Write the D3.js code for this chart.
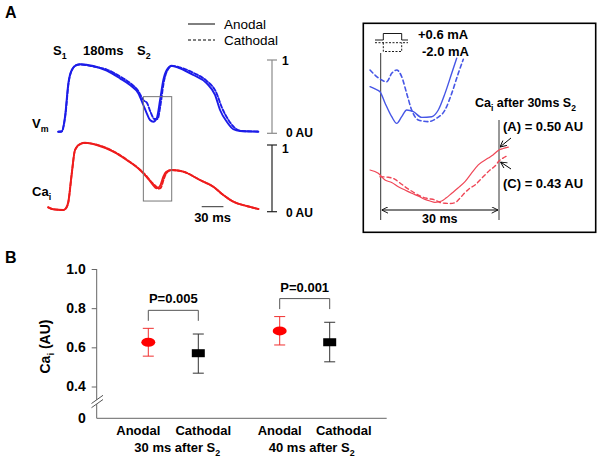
<!DOCTYPE html>
<html><head><meta charset="utf-8">
<script src="https://cdn.jsdelivr.net/npm/d3@7"></script>
<style>body{margin:0;background:#fff}svg{display:block}text{font-family:"Liberation Sans",Arial,sans-serif}</style>
</head><body><script>
// ---------- Panel A: optical traces (time ms, amplitude AU) ----------
const vmAnodal = [[14.2,0.022],[18.9,0.025],[23.5,0.226],[28.1,0.682],[32.8,0.864],[39.7,0.932],[44.2,0.941],[62.6,0.918],[81.2,0.854],[99.5,0.750],[113.4,0.659],[124.8,0.546],[131.8,0.386],[136.5,0.273],[141.0,0.181],[145.6,0.158],[150.3,0.205],[154.9,0.454],[159.4,0.727],[164.1,0.864],[171.0,0.922],[182.5,0.887],[200.9,0.795],[219.4,0.682],[230.9,0.523],[237.8,0.318],[247.1,0.158],[256.2,0.055],[265.4,0.031],[290.8,0.022]];
const vmCathodal = [[14.2,0.022],[18.9,0.025],[23.9,0.236],[28.5,0.686],[33.2,0.864],[39.7,0.932],[44.2,0.939],[62.6,0.911],[81.2,0.870],[99.5,0.775],[113.4,0.686],[124.8,0.577],[131.8,0.454],[136.9,0.413],[141.7,0.291],[147.2,0.195],[151.3,0.195],[155.5,0.386],[159.6,0.673],[164.5,0.850],[171.4,0.918],[182.5,0.898],[200.9,0.825],[219.4,0.714],[232.3,0.563],[240.6,0.345],[250.3,0.168],[260.0,0.059],[268.2,0.031],[290.8,0.025]];
const caAnodal = [[0.4,0.066],[7.3,0.036],[21.2,0.025],[24.9,0.055],[28.1,0.150],[32.8,0.576],[37.3,0.925],[44.2,1.015],[51.2,1.034],[67.3,1.000],[90.3,0.900],[108.8,0.775],[127.2,0.625],[136.5,0.520],[143.4,0.426],[150.3,0.351],[154.8,0.385],[159.4,0.525],[163.1,0.595],[171.0,0.625],[187.1,0.600],[210.1,0.475],[228.5,0.375],[242.4,0.250],[256.2,0.150],[274.7,0.085],[290.8,0.040]];
const caCathodal = [[0.4,0.066],[7.3,0.036],[21.2,0.025],[24.9,0.050],[28.1,0.140],[32.8,0.560],[37.3,0.920],[44.2,1.010],[51.2,1.030],[67.3,1.005],[90.3,0.905],[108.8,0.780],[127.2,0.630],[136.5,0.530],[143.4,0.440],[150.3,0.370],[153.0,0.345],[156.0,0.360],[159.4,0.470],[163.1,0.570],[171.0,0.625],[187.1,0.600],[210.1,0.475],[228.5,0.375],[242.4,0.250],[256.2,0.150],[274.7,0.085],[290.8,0.040]];

// ---------- Inset: zoom around S2 (time ms after S2, AU) ----------
const vmInsetAnodal = [[-2.71,0.311],[-1.45,0.298],[-0.18,0.282],[1.09,0.216],[2.79,0.136],[4.06,0.097],[5.33,0.136],[6.59,0.175],[8.27,0.165],[10.40,0.132],[12.93,0.136],[14.61,0.175],[16.31,0.272],[18.01,0.389],[19.27,0.477]];
const vmInsetCathodal = [[-2.71,0.408],[-1.45,0.379],[0.25,0.350],[1.52,0.340],[2.79,0.389],[4.06,0.408],[5.33,0.369],[6.59,0.272],[7.86,0.175],[9.54,0.117],[12.07,0.107],[14.20,0.127],[16.31,0.175],[18.01,0.272],[19.68,0.389],[20.95,0.471]];
const caInsetAnodal = [[-2.71,0.378],[-0.61,0.358],[1.09,0.317],[2.79,0.302],[4.46,0.276],[6.16,0.256],[7.86,0.236],[9.46,0.220],[11.24,0.199],[12.50,0.189],[13.77,0.181],[15.47,0.189],[16.56,0.207],[18.01,0.236],[19.60,0.268],[21.38,0.307],[22.90,0.354],[24.75,0.409],[27.29,0.451],[28.48,0.470],[30.0,0.500],[31.02,0.509],[32.36,0.518]];
const caInsetCathodal = [[-0.18,0.337],[1.93,0.334],[3.63,0.321],[4.89,0.299],[6.16,0.276],[8.19,0.244],[10.40,0.215],[11.99,0.204],[13.77,0.195],[15.04,0.180],[16.31,0.175],[17.58,0.174],[18.85,0.179],[20.12,0.207],[21.38,0.240],[22.65,0.268],[23.92,0.287],[25.18,0.317],[26.45,0.348],[27.72,0.378],[28.99,0.402],[30.0,0.433],[31.02,0.451],[31.96,0.463]];
const insetReadout = ["(A) = 0.50 AU", "(C) = 0.43 AU"];
const stimLabels = ["+0.6 mA", "-2.0 mA"];

// ---------- Panel B: Ca_i summary ----------
const groups = ["30 ms after S2", "40 ms after S2"];
const stims = ["Anodal", "Cathodal"];
const meanVals = [0.626, 0.570, 0.684, 0.626];
const upperVals = [0.697, 0.668, 0.757, 0.728];
const lowerVals = [0.555, 0.468, 0.612, 0.526];
const pLabels = ["P=0.005", "P=0.001"];
const yTicks = [0.4, 0.6, 0.8, 1.0];

const FONT = '"Liberation Sans", Arial, sans-serif';
const svg = d3.select("body").append("svg").attr("width", 600).attr("height", 459);
svg.append("rect").attr("width", 600).attr("height", 459).attr("fill", "#fff");

const defs = svg.append("defs");
defs.append("marker").attr("id", "arr").attr("viewBox", "0 0 10 10").attr("refX", 10).attr("refY", 5)
  .attr("markerWidth", 7).attr("markerHeight", 7).attr("markerUnits", "userSpaceOnUse").attr("orient", "auto-start-reverse")
  .append("path").attr("d", "M1,0.5 L10,5 L1,9.5").attr("fill", "none").attr("stroke", "#000").attr("stroke-width", 1.3);

// text helper with subscripts: segs = [[text, isSub], ...]
function rich(x, y, segs, size, opts = {}) {
  const t = svg.append("text").attr("x", x).attr("y", y).attr("font-size", size)
    .attr("font-weight", opts.weight || "bold").attr("text-anchor", opts.anchor || "start")
    .attr("fill", opts.fill || "#000");
  if (opts.transform) t.attr("transform", opts.transform);
  let off = 0;
  segs.forEach(([s, sub]) => {
    const ts = t.append("tspan").text(s);
    if (sub) { ts.attr("font-size", size * 0.68).attr("dy", size * 0.28 - off); off = size * 0.28; }
    else if (off) { ts.attr("dy", -off); off = 0; }
  });
  return t;
}

// ================= Panel A =================
const xA = d3.scaleLinear().domain([0, 290]).range([48, 257.8]);
const yVm = d3.scaleLinear().domain([0, 1]).range([133.3, 60]);
const yCa = d3.scaleLinear().domain([0, 1]).range([211.7, 145]);

const blue = "#1c1ce8", red = "#ee1c1c";
function trace(data, x, y, color, width, dash) {
  const p = svg.append("path").datum(data)
    .attr("d", d3.line().x(d => x(d[0])).y(d => y(d[1])).curve(d3.curveMonotoneX))
    .attr("fill", "none").attr("stroke", color).attr("stroke-width", width)
    .attr("stroke-linejoin", "round").attr("stroke-linecap", "round");
  if (dash) p.attr("stroke-dasharray", dash);
}
trace(caCathodal, xA, yCa, red, 1.9, "4,2");
trace(caAnodal, xA, yCa, red, 1.9);
trace(vmCathodal, xA, yVm, blue, 1.9, "4,2");
trace(vmAnodal, xA, yVm, blue, 1.9);

// box around S2 region
svg.append("rect").attr("x", xA(131.8)).attr("y", yVm(0.5))
  .attr("width", xA(171.0) - xA(131.8)).attr("height", yCa(0.16) - yVm(0.5))
  .attr("fill", "none").attr("stroke", "#777").attr("stroke-width", 1);

// amplitude scale bars
function scaleBar(y, color) {
  const g = svg.append("g").attr("stroke", color).attr("stroke-width", 1.2);
  g.append("line").attr("x1", 272).attr("x2", 272).attr("y1", y(0)).attr("y2", y(1));
  [0, 1].forEach(v => g.append("line").attr("x1", 267).attr("x2", 277).attr("y1", y(v)).attr("y2", y(v)));
}
scaleBar(yVm, "#8a8a8a");
scaleBar(yCa, "#222");
rich(282, yVm(1) + 5, [["1"]], 12);
rich(286, yVm(0) + 4, [["0 AU"]], 12);
rich(282, yCa(1) + 8, [["1"]], 12);
rich(286, yCa(0) + 5, [["0 AU"]], 12);

// 30 ms time bar
svg.append("line").attr("x1", xA(212.5)).attr("x2", xA(242.5)).attr("y1", 206.7).attr("y2", 206.7)
  .attr("stroke", "#333").attr("stroke-width", 1);
rich((xA(212.5) + xA(242.5)) / 2, 222, [["30 ms"]], 13, { anchor: "middle" });

rich(5, 18, [["A"]], 16);
rich(53, 55, [["S"], ["1", true]], 13);
rich(83, 55, [["180ms"]], 13);
rich(137, 55, [["S"], ["2", true]], 13);
rich(32, 128, [["V"], ["m", true]], 13);
rich(32, 196, [["Ca"], ["i", true]], 13);

// legend
svg.append("line").attr("x1", 188).attr("x2", 215).attr("y1", 24).attr("y2", 24).attr("stroke", "#000").attr("stroke-width", 1);
svg.append("line").attr("x1", 188).attr("x2", 215).attr("y1", 40).attr("y2", 40).attr("stroke", "#000").attr("stroke-width", 1).attr("stroke-dasharray", "3,2");
rich(224, 29, [["Anodal"]], 13.5, { weight: "normal" });
rich(224, 45, [["Cathodal"]], 13.5, { weight: "normal" });

// ================= Inset =================
svg.append("rect").attr("x", 363.3).attr("y", 23.3).attr("width", 232.4).attr("height", 209)
  .attr("fill", "none").attr("stroke", "#000").attr("stroke-width", 1.6);
const xIn = d3.scaleLinear().domain([0, 30]).range([380.7, 499]);
const yVmIn = d3.scaleLinear().domain([0, 0.5]).range([140, 54.3]);
const yCaIn = d3.scaleLinear().domain([0, 0.5]).range([232, 150]);

// stimulus pulses
const pulse = svg.append("g").attr("fill", "none").attr("stroke", "#000").attr("stroke-width", 0.9);
pulse.append("path").attr("d", "M375,40 H383.3 V33.5 H401.7 V40 H408");
pulse.append("path").attr("d", "M375,42.7 H408 M383.3,42.7 V51.5 H401.7 V42.7").attr("stroke-dasharray", "2,1.5");
rich(418, 39, [[stimLabels[0]]], 13);
rich(422, 56, [[stimLabels[1]]], 13);

svg.append("line").attr("x1", xIn(0)).attr("x2", xIn(0)).attr("y1", 53).attr("y2", 220).attr("stroke", "#333").attr("stroke-width", 1);
svg.append("line").attr("x1", xIn(30)).attr("x2", xIn(30)).attr("y1", 120).attr("y2", 220).attr("stroke", "#333").attr("stroke-width", 1);

const blueIn = "#4656e6", redIn = "#ef4656";
trace(vmInsetCathodal, xIn, yVmIn, blueIn, 1.6, "4,3");
trace(vmInsetAnodal, xIn, yVmIn, blueIn, 1.4);
trace(caInsetCathodal, xIn, yCaIn, redIn, 1.4, "4,3");
trace(caInsetAnodal, xIn, yCaIn, redIn, 1.2);

svg.append("line").attr("x1", xIn(0) + 1).attr("x2", xIn(30) - 1).attr("y1", 210).attr("y2", 210)
  .attr("stroke", "#000").attr("stroke-width", 1).attr("marker-start", "url(#arr)").attr("marker-end", "url(#arr)");
rich((xIn(0) + xIn(30)) / 2, 223, [["30 ms"]], 12.5, { anchor: "middle" });

rich(475, 107, [["Ca"], ["i", true], [" after 30ms S"], ["2", true]], 12.5);
rich(503, 131, [[insetReadout[0]]], 13);
rich(503, 188, [[insetReadout[1]]], 13);
svg.append("line").attr("x1", 511).attr("y1", 138).attr("x2", xIn(30) + 1).attr("y2", yCaIn(0.5) - 3)
  .attr("stroke", "#000").attr("stroke-width", 1).attr("marker-end", "url(#arr)");
svg.append("line").attr("x1", 511).attr("y1", 169).attr("x2", xIn(30) + 1.5).attr("y2", yCaIn(0.433) + 1)
  .attr("stroke", "#000").attr("stroke-width", 1).attr("marker-end", "url(#arr)");

// ================= Panel B =================
rich(5, 263, [["B"]], 16);
const yB = d3.scaleLinear().domain([0.4, 1.0]).range([386.5, 269]);
const yZero = 418.3, axisX = 96.7;
const xG = d3.scaleBand().domain(groups).range([107.6, 370.4]);
const xS = d3.scalePoint().domain(stims).range([-25, 25]);
// category label placement (relative to group centre), as in the original layout
const labelShift = [[-35, 30], [-25, 39]];

const axis = svg.append("g").attr("transform", `translate(${axisX},0)`)
  .call(d3.axisLeft(yB).tickValues(yTicks).tickFormat(d3.format(".1f")).tickSize(5).tickPadding(6));
axis.select(".domain").remove();
axis.selectAll(".tick line").attr("stroke", "#666");
axis.selectAll(".tick text").attr("font-size", 14).attr("font-weight", "bold").attr("font-family", FONT).attr("fill", "#000");
svg.append("text").attr("x", axisX - 11).attr("y", yZero + 5).attr("text-anchor", "end")
  .attr("font-size", 14).attr("font-weight", "bold").text("0");

svg.append("line").attr("x1", axisX).attr("x2", axisX).attr("y1", yB(1.0)).attr("y2", yZero).attr("stroke", "#666");
svg.append("line").attr("x1", axisX).attr("x2", 386.7).attr("y1", yZero).attr("y2", yZero).attr("stroke", "#666");
// axis break
svg.append("path").attr("d", "M91.5,403.5 L103,395.3 L103,399.5 L91.5,407.7 Z").attr("fill", "#fff");
svg.append("path").attr("d", "M91.5,403.5 L103,395.3 M91.5,407.7 L103,399.5").attr("stroke", "#555").attr("stroke-width", 1).attr("fill", "none");

rich(50, 346.5, [["Ca"], ["i", true], [" (AU)"]], 14, { anchor: "middle", transform: "rotate(-90,50,346.5)" });

const pts = [];
groups.forEach((g, gi) => stims.forEach((s, si) => {
  const i = gi * 2 + si;
  const gc = xG(g) + xG.bandwidth() / 2;
  pts.push({ g, gi, s, si, gc, x: gc + xS(s), m: meanVals[i], hi: upperVals[i], lo: lowerVals[i] });
}));
pts.forEach(p => {
  const col = p.si === 0 ? "#f03030" : "#333";
  const eg = svg.append("g").attr("stroke", col).attr("stroke-width", 1);
  eg.append("line").attr("x1", p.x).attr("x2", p.x).attr("y1", yB(p.hi)).attr("y2", yB(p.lo));
  eg.append("line").attr("x1", p.x - 5.5).attr("x2", p.x + 5.5).attr("y1", yB(p.hi)).attr("y2", yB(p.hi));
  eg.append("line").attr("x1", p.x - 5.5).attr("x2", p.x + 5.5).attr("y1", yB(p.lo)).attr("y2", yB(p.lo));
  if (p.si === 0) svg.append("ellipse").attr("cx", p.x).attr("cy", yB(p.m)).attr("rx", 7).attr("ry", 4.5).attr("fill", "#ff0000");
  else svg.append("rect").attr("x", p.x - 6.5).attr("y", yB(p.m) - 4).attr("width", 13).attr("height", 8).attr("fill", "#000");
  rich(p.gc + labelShift[p.gi][p.si], 435, [[p.s]], 13, { anchor: "middle" });
});
groups.forEach((g, gi) => {
  const a = pts[gi * 2], c = pts[gi * 2 + 1];
  const top = yB(Math.max(a.hi, c.hi)) - 18;
  const bot = top + 10.5;
  svg.append("path").attr("d", `M${a.x},${bot} V${top} H${c.x} V${bot}`).attr("fill", "none").attr("stroke", "#555").attr("stroke-width", 1);
  rich((a.x + c.x) / 2, top - 7, [[pLabels[gi]]], 13, { anchor: "middle" });
  const parts = g.split("S2");
  rich(xG(g) + xG.bandwidth() / 2 + 4 + 3 * gi, 452, [[parts[0] + "S"], ["2", true]], 13, { anchor: "middle" });
});
</script></body></html>
